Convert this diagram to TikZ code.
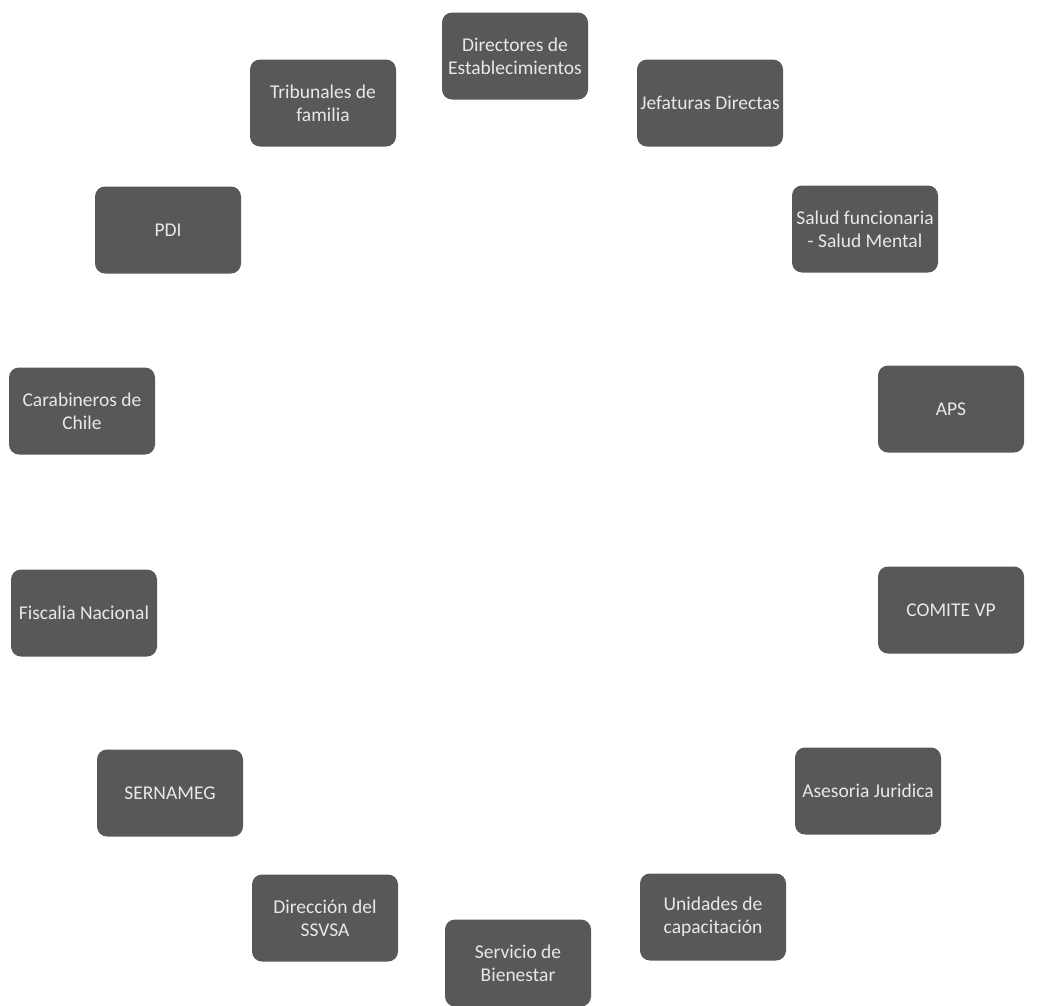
\documentclass[tikz,border=0pt]{standalone}
\usepackage{fontspec}
\setmainfont{Carlito}
\definecolor{boxfill}{HTML}{585858}
\definecolor{boxtext}{HTML}{E8E8E8}
\begin{document}
\begin{tikzpicture}[x=1pt,y=-1pt,
  actor/.style={fill=boxfill, draw=none, rounded corners=10pt,
    minimum width=146pt, minimum height=87pt, inner sep=2pt,
    align=center, text=boxtext,
    font=\fontsize{19.5}{23}\selectfont}]
\useasboundingbox[fill=white] (0,0) rectangle (1046,1005);
\node[actor] (dir) at (515,56) {Directores de\\Establecimientos};
\node[actor] (jef) at (710,103) {Jefaturas Directas};
\node[actor] (sal) at (865,229) {Salud funcionaria\\- Salud Mental};
\node[actor] (aps) at (951,409) {APS};
\node[actor] (com) at (951,610) {COMITE VP};
\node[actor] (ase) at (868,791) {Asesoria Juridica};
\node[actor] (uni) at (713,917) {Unidades de\\capacitación};
\node[actor] (ser) at (518,963) {Servicio de\\Bienestar};
\node[actor] (dss) at (325,918) {Dirección del\\SSVSA};
\node[actor] (sen) at (170,793) {SERNAMEG};
\node[actor] (fis) at (84,613) {Fiscalia Nacional};
\node[actor] (car) at (82,411) {Carabineros de\\Chile};
\node[actor] (pdi) at (168,230) {PDI};
\node[actor] (tri) at (323,103) {Tribunales de\\familia};
\end{tikzpicture}
\end{document}
